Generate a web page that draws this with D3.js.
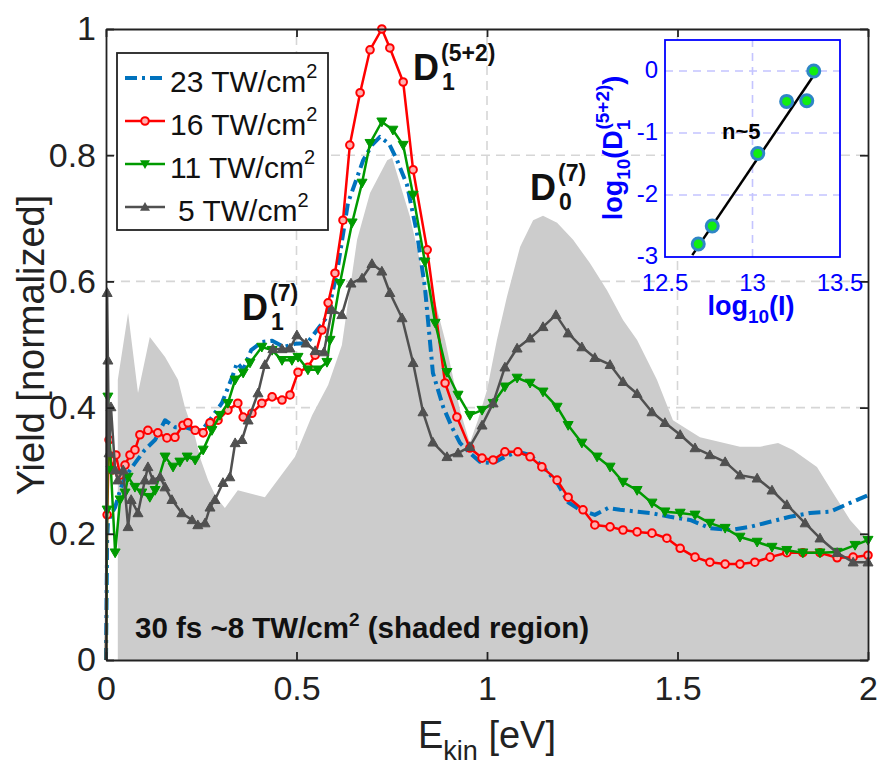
<!DOCTYPE html>
<html lang="en">
<head>
<meta charset="utf-8">
<title>Yield vs Ekin</title>
<script src="https://cdn.jsdelivr.net/npm/d3@7"></script>
<style>
body { margin: 0; background: white; }
svg text { font-family: "Liberation Sans", Arial, sans-serif; }
</style>
</head>
<body>
<svg id="chart" width="889" height="766"></svg>
<script>
// shaded region: 30 fs ~8 TW/cm2 reference spectrum
var shaded = [[0.031,0],[0.031,0.444],[0.058,0.55],[0.084,0.423],[0.115,0.512],[0.155,0.48],[0.189,0.444],
  [0.207,0.401],[0.234,0.353],[0.249,0.317],[0.268,0.285],[0.289,0.258],[0.312,0.241],[0.346,0.269],[0.417,0.258],
  [0.496,0.322],[0.541,0.388],[0.583,0.436],[0.619,0.499],[0.659,0.666],[0.693,0.74],[0.738,0.792],[0.751,0.796],
  [0.798,0.702],[0.843,0.582],[0.85,0.6],[0.89,0.507],[0.929,0.396],[0.955,0.344],[0.976,0.38],[1.0,0.428],
  [1.026,0.507],[1.052,0.575],[1.087,0.655],[1.121,0.697],[1.147,0.704],[1.184,0.693],[1.226,0.666],[1.27,0.629],
  [1.315,0.586],[1.357,0.539],[1.394,0.507],[1.446,0.444],[1.488,0.38],[1.559,0.353],[1.664,0.338],[1.717,0.338],
  [1.764,0.344],[1.803,0.333],[1.866,0.306],[1.908,0.265],[1.953,0.222],[2.0,0.19],[2.0,0]];

var tw23 = [[0,0],[0.003,0.19],[0.005,0.217],[0.013,0.23],[0.024,0.242],[0.037,0.269],[0.05,0.29],[0.076,0.312],
  [0.102,0.333],[0.129,0.349],[0.155,0.38],[0.181,0.369],[0.207,0.369],[0.234,0.364],[0.252,0.364],[0.278,0.385],
  [0.304,0.407],[0.331,0.448],[0.344,0.471],[0.36,0.46],[0.381,0.491],[0.409,0.504],[0.436,0.506],[0.467,0.496],
  [0.496,0.501],[0.528,0.502],[0.554,0.523],[0.58,0.544],[0.606,0.613],[0.635,0.724],[0.675,0.792],[0.698,0.816],
  [0.719,0.829],[0.743,0.818],[0.764,0.792],[0.79,0.753],[0.816,0.677],[0.837,0.591],[0.858,0.455],[0.885,0.401],
  [0.908,0.369],[0.929,0.344],[0.955,0.328],[0.982,0.314],[1.016,0.312],[1.047,0.322],[1.081,0.33],[1.113,0.325],
  [1.147,0.306],[1.184,0.281],[1.213,0.25],[1.244,0.238],[1.283,0.23],[1.318,0.241],[1.349,0.238],[1.428,0.233],
  [1.48,0.227],[1.533,0.222],[1.585,0.209],[1.638,0.206],[1.69,0.211],[1.743,0.219],[1.795,0.227],[1.848,0.233],
  [1.9,0.235],[1.953,0.249],[2.0,0.261]];

var tw16 = [[0,0],[0.003,0.23],[0.008,0.349],[0.016,0.301],[0.026,0.325],[0.037,0.293],[0.05,0.309],[0.063,0.325],
  [0.076,0.333],[0.089,0.357],[0.11,0.364],[0.136,0.36],[0.16,0.352],[0.181,0.353],[0.202,0.372],[0.215,0.376],
  [0.234,0.364],[0.255,0.36],[0.273,0.376],[0.294,0.38],[0.32,0.396],[0.346,0.407],[0.36,0.385],[0.383,0.391],
  [0.409,0.407],[0.436,0.417],[0.462,0.412],[0.483,0.42],[0.504,0.456],[0.53,0.464],[0.549,0.483],[0.567,0.523],
  [0.583,0.566],[0.601,0.613],[0.622,0.697],[0.64,0.816],[0.667,0.899],[0.693,0.967],[0.724,1.0],[0.745,0.97],
  [0.78,0.916],[0.806,0.777],[0.843,0.65],[0.89,0.439],[0.921,0.385],[0.955,0.336],[0.987,0.32],[1.016,0.317],
  [1.047,0.33],[1.081,0.33],[1.113,0.322],[1.144,0.306],[1.184,0.285],[1.213,0.258],[1.252,0.238],[1.283,0.214],
  [1.323,0.211],[1.357,0.206],[1.394,0.203],[1.433,0.201],[1.472,0.193],[1.507,0.177],[1.546,0.163],[1.585,0.155],
  [1.625,0.152],[1.664,0.152],[1.703,0.155],[1.743,0.163],[1.787,0.17],[1.829,0.17],[1.874,0.17],[1.919,0.162],
  [1.961,0.163],[2.0,0.166]];

var tw11 = [[0,0],[0.003,0.238],[0.005,0.417],[0.013,0.301],[0.024,0.17],[0.037,0.254],[0.05,0.265],[0.058,0.29],
  [0.076,0.274],[0.094,0.265],[0.115,0.258],[0.129,0.269],[0.155,0.322],[0.176,0.306],[0.194,0.314],[0.213,0.322],
  [0.234,0.317],[0.255,0.333],[0.278,0.364],[0.299,0.388],[0.32,0.407],[0.339,0.444],[0.36,0.455],[0.378,0.471],
  [0.409,0.496],[0.436,0.491],[0.462,0.475],[0.488,0.475],[0.504,0.48],[0.53,0.46],[0.556,0.46],[0.58,0.472],
  [0.588,0.507],[0.614,0.597],[0.646,0.693],[0.672,0.756],[0.693,0.819],[0.724,0.853],[0.753,0.84],[0.78,0.816],
  [0.806,0.737],[0.837,0.631],[0.864,0.534],[0.895,0.456],[0.924,0.42],[0.955,0.388],[0.987,0.396],[1.016,0.407],
  [1.047,0.433],[1.079,0.447],[1.113,0.439],[1.147,0.425],[1.184,0.401],[1.213,0.372],[1.249,0.344],[1.289,0.322],
  [1.323,0.306],[1.357,0.282],[1.394,0.269],[1.433,0.249],[1.467,0.235],[1.507,0.233],[1.546,0.23],[1.585,0.217],
  [1.625,0.209],[1.664,0.195],[1.709,0.187],[1.748,0.179],[1.787,0.174],[1.829,0.17],[1.874,0.17],[1.919,0.171],
  [1.966,0.182],[2.0,0.19]];

var tw5 = [[0,0],[0.003,0.582],[0.005,0.475],[0.008,0.328],[0.013,0.401],[0.024,0.301],[0.031,0.285],[0.045,0.301],
  [0.058,0.211],[0.066,0.254],[0.084,0.233],[0.102,0.285],[0.11,0.306],[0.123,0.285],[0.142,0.29],[0.155,0.274],
  [0.173,0.254],[0.199,0.233],[0.226,0.222],[0.241,0.214],[0.26,0.217],[0.273,0.242],[0.286,0.254],[0.307,0.281],
  [0.325,0.29],[0.339,0.344],[0.357,0.349],[0.373,0.38],[0.399,0.423],[0.417,0.468],[0.438,0.493],[0.462,0.493],
  [0.483,0.494],[0.501,0.515],[0.525,0.502],[0.549,0.49],[0.572,0.488],[0.593,0.555],[0.619,0.547],[0.643,0.597],
  [0.672,0.605],[0.698,0.628],[0.724,0.616],[0.745,0.582],[0.777,0.542],[0.806,0.471],[0.832,0.393],[0.858,0.345],
  [0.895,0.322],[0.924,0.328],[0.955,0.338],[0.987,0.372],[1.016,0.407],[1.047,0.464],[1.079,0.494],[1.113,0.51],
  [1.147,0.528],[1.181,0.547],[1.213,0.518],[1.249,0.496],[1.283,0.479],[1.323,0.468],[1.357,0.441],[1.394,0.422],
  [1.433,0.393],[1.467,0.376],[1.507,0.357],[1.546,0.336],[1.585,0.325],[1.625,0.314],[1.664,0.293],[1.709,0.288],
  [1.748,0.269],[1.787,0.246],[1.835,0.217],[1.874,0.193],[1.919,0.17],[1.961,0.155],[2.0,0.155]];

// inset: log10 intensity vs log10 D1(5+2) yield
var logI = [12.69, 12.77, 13.03, 13.195, 13.31, 13.35];
var logD = [-2.79, -2.5, -1.33, -0.49, -0.48, 0];
var fitLine = [[12.656, -2.97], [13.357, -0.04]];

var xTicks = [0, 0.5, 1, 1.5, 2];
var yTicks = [0, 0.2, 0.4, 0.6, 0.8, 1];
var insetXTicks = [12.5, 13, 13.5];
var insetYTicks = [-3, -2, -1, 0];

var legendLabels = ["23", "16", "11", "5"];

var svg = d3.select("#chart");
var x = d3.scaleLinear().domain([0, 2]).range([106, 868]);
var y = d3.scaleLinear().domain([0, 1]).range([660, 29]);

// grid first so the shaded area hides it
var grid = svg.append("g").attr("stroke", "#d6d6d6").attr("stroke-width", 1.6).attr("stroke-dasharray", "9,6");
grid.selectAll(".gx").data(xTicks.slice(1, -1)).enter().append("line")
  .attr("x1", d => x(d)).attr("x2", d => x(d)).attr("y1", y(0)).attr("y2", y(1));
grid.selectAll(".gy").data(yTicks.slice(1, -1)).enter().append("line")
  .attr("y1", d => y(d)).attr("y2", d => y(d)).attr("x1", x(0)).attr("x2", x(2));

svg.append("path").datum(shaded)
  .attr("fill", "#cccccc")
  .attr("d", d3.line().x(d => x(d[0])).y(d => y(d[1])));

var line = d3.line().x(d => x(d[0])).y(d => y(d[1]));

var tri = function (up, s) {
  return up ? "M0," + (-s) + "L" + s + "," + (s * 0.75) + "L" + (-s) + "," + (s * 0.75) + "Z"
            : "M0," + s + "L" + s + "," + (-s * 0.75) + "L" + (-s) + "," + (-s * 0.75) + "Z";
};

var series = [
  {data: tw23, color: "#0072bd", width: 4, dash: "12,5,3,5", marker: null},
  {data: tw16, color: "#ff0000", width: 2.5, dash: null, marker: "circle"},
  {data: tw11, color: "#009a00", width: 2.5, dash: null, marker: "down"},
  {data: tw5, color: "#505050", width: 2.5, dash: null, marker: "up"}
];

series.forEach(function (s) {
  var g = svg.append("g");
  g.append("path").datum(s.data)
    .attr("fill", "none").attr("stroke", s.color).attr("stroke-width", s.width)
    .attr("stroke-linejoin", "round")
    .attr("stroke-dasharray", s.dash)
    .attr("d", line);
  if (s.marker == "circle") {
    g.selectAll("circle").data(s.data.slice(1)).enter().append("circle")
      .attr("cx", d => x(d[0])).attr("cy", d => y(d[1])).attr("r", 3.8)
      .attr("fill", "#ffb0b0").attr("stroke", s.color).attr("stroke-width", 2);
  } else if (s.marker) {
    g.selectAll(".m").data(s.data.slice(1)).enter().append("path")
      .attr("transform", d => "translate(" + x(d[0]) + "," + y(d[1]) + ")")
      .attr("d", tri(s.marker == "up", 5))
      .attr("fill", s.color).attr("stroke", s.color).attr("stroke-width", 1);
  }
});

// axes box with inward ticks on all sides
var fmt = d => d3.format("")(d);
svg.append("g").attr("transform", "translate(0," + y(0) + ")")
  .call(d3.axisBottom(x).tickValues(xTicks).tickSizeInner(-8).tickSizeOuter(0).tickPadding(16).tickFormat(fmt));
svg.append("g").attr("transform", "translate(0," + y(1) + ")")
  .call(d3.axisTop(x).tickValues(xTicks).tickSizeInner(-8).tickSizeOuter(0).tickFormat(""));
svg.append("g").attr("transform", "translate(" + x(0) + ",0)")
  .call(d3.axisLeft(y).tickValues(yTicks).tickSizeInner(-8).tickSizeOuter(0).tickPadding(10).tickFormat(fmt));
svg.append("g").attr("transform", "translate(" + x(2) + ",0)")
  .call(d3.axisRight(y).tickValues(yTicks).tickSizeInner(-8).tickSizeOuter(0).tickFormat(""));
svg.selectAll(".domain").attr("stroke", "#222").attr("stroke-width", 1.8);
svg.selectAll(".tick line").attr("stroke", "#222").attr("stroke-width", 1.8);
svg.selectAll(".tick text").attr("font-size", 34).attr("fill", "#222")
  .style("font-family", "'Liberation Sans', Arial, sans-serif");

// axis labels
svg.append("text").attr("transform", "translate(44,345) rotate(-90)")
  .attr("text-anchor", "middle").attr("font-size", 38).attr("fill", "#222")
  .text("Yield [normalized]");
var xl = svg.append("text").attr("x", 487).attr("y", 748)
  .attr("text-anchor", "middle").attr("font-size", 38).attr("fill", "#222");
xl.append("tspan").text("E");
xl.append("tspan").attr("font-size", 27).attr("dy", 12).text("kin");
xl.append("tspan").attr("dy", -12).text(" [eV]");

// legend
var lg = svg.append("g");
lg.append("rect").attr("x", 117).attr("y", 53).attr("width", 211).attr("height", 177)
  .attr("fill", "white").attr("stroke", "#222").attr("stroke-width", 1.8);
legendLabels.forEach(function (lab, i) {
  var s = series[i];
  var ly = 78 + i * 43;
  lg.append("line").attr("x1", 125).attr("x2", 165).attr("y1", ly).attr("y2", ly)
    .attr("stroke", s.color).attr("stroke-width", s.width).attr("stroke-dasharray", s.dash);
  if (s.marker == "circle") {
    lg.append("circle").attr("cx", 145).attr("cy", ly).attr("r", 3.8)
      .attr("fill", "#ffb0b0").attr("stroke", s.color).attr("stroke-width", 2);
  } else if (s.marker) {
    lg.append("path").attr("transform", "translate(145," + ly + ")").attr("d", tri(s.marker == "up", 5))
      .attr("fill", s.color);
  }
  var t = lg.append("text").attr("x", i == 3 ? 178 : 170).attr("y", ly + 14).attr("font-size", 30).attr("fill", "#111");
  t.append("tspan").text(lab + " TW/cm");
  t.append("tspan").attr("font-size", 20).attr("dy", -14).text("2");
});

// peak labels D with sub/superscripts
function peakLabel(px, py, sub, sup) {
  var g = svg.append("g").attr("font-weight", "bold").attr("fill", "#111");
  g.append("text").attr("x", px).attr("y", py).attr("font-size", 36).text("D");
  g.append("text").attr("x", px + 29).attr("y", py + 10).attr("font-size", 23).text(sub);
  g.append("text").attr("x", px + 28).attr("y", py - 19).attr("font-size", 23).text(sup);
}
peakLabel(242, 320, "1", "(7)");
peakLabel(413, 80, "1", "(5+2)");
peakLabel(530, 200, "0", "(7)");

var note = svg.append("text").attr("x", 135).attr("y", 638)
  .attr("font-size", 29.5).attr("font-weight", "bold").attr("fill", "#111");
note.append("tspan").text("30 fs ~8 TW/cm");
note.append("tspan").attr("font-size", 19).attr("dy", -12).text("2");
note.append("tspan").attr("dy", 12).text(" (shaded region)");

// inset
var ix = d3.scaleLinear().domain([12.5, 13.5]).range([665, 840]);
var iy = d3.scaleLinear().domain([-3, 0.5]).range([257, 40]);
var ins = svg.append("g");
ins.append("rect").attr("x", 665).attr("y", 40).attr("width", 175).attr("height", 217).attr("fill", "white");
var ig = ins.append("g").attr("stroke", "#c4c4ff").attr("stroke-width", 1.6).attr("stroke-dasharray", "8,6");
ig.selectAll(".x").data([13]).enter().append("line")
  .attr("x1", d => ix(d)).attr("x2", d => ix(d)).attr("y1", iy(-3)).attr("y2", iy(0.5));
ig.selectAll(".y").data([-2, -1, 0]).enter().append("line")
  .attr("y1", d => iy(d)).attr("y2", d => iy(d)).attr("x1", ix(12.5)).attr("x2", ix(13.5));
ins.append("path").datum(fitLine).attr("stroke", "#000").attr("stroke-width", 2.5).attr("fill", "none")
  .attr("d", d3.line().x(d => ix(d[0])).y(d => iy(d[1])));
ins.selectAll(".pt").data(logI).enter().append("circle")
  .attr("cx", d => ix(d)).attr("cy", (d, i) => iy(logD[i])).attr("r", 6)
  .attr("fill", "#11ee11").attr("stroke", "#2f86c6").attr("stroke-width", 3);
ins.append("rect").attr("x", 665).attr("y", 40).attr("width", 175).attr("height", 217)
  .attr("fill", "none").attr("stroke", "#0000ff").attr("stroke-width", 1.8);
ins.selectAll(".yt").data(insetYTicks).enter().append("text")
  .attr("x", 658).attr("y", d => iy(d) + 7).attr("text-anchor", "end").attr("font-size", 24).attr("fill", "#0000ff")
  .text(d => d);
ins.selectAll(".xt").data(insetXTicks).enter().append("text")
  .attr("x", d => ix(d)).attr("y", 291).attr("text-anchor", "middle").attr("font-size", 24).attr("fill", "#0000ff")
  .text(d => d);
ins.append("text").attr("x", 722).attr("y", 139).attr("font-size", 22).attr("font-weight", "bold").text("n~5");
var ixl = ins.append("text").attr("x", 751).attr("y", 315).attr("text-anchor", "middle")
  .attr("font-size", 27).attr("font-weight", "bold").attr("fill", "#0000ff");
ixl.append("tspan").text("log");
ixl.append("tspan").attr("font-size", 19).attr("dy", 8).text("10");
ixl.append("tspan").attr("dy", -8).text("(I)");
var iyl = ins.append("text").attr("transform", "translate(622,148) rotate(-90)").attr("text-anchor", "middle")
  .attr("font-size", 27).attr("font-weight", "bold").attr("fill", "#0000ff");
iyl.append("tspan").text("log");
iyl.append("tspan").attr("font-size", 19).attr("dy", 8).text("10");
iyl.append("tspan").attr("dy", -8).text("(D");
iyl.append("tspan").attr("font-size", 19).attr("dy", 8).text("1");
iyl.append("tspan").attr("font-size", 19).attr("dx", -10).attr("dy", -21).text("(5+2)");
iyl.append("tspan").attr("dy", 13).text(")");
</script>
</body>
</html>
